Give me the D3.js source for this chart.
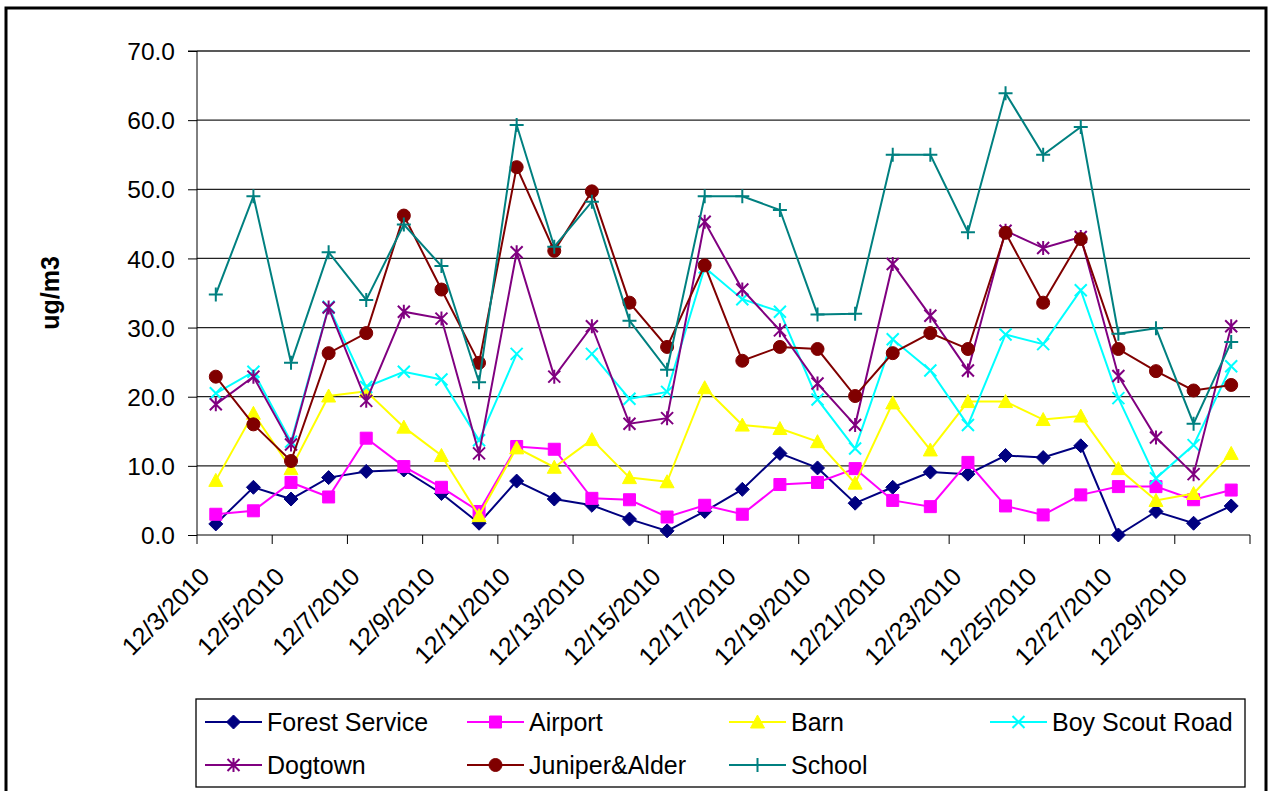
<!DOCTYPE html>
<html>
<head>
<meta charset="utf-8">
<script src="https://cdn.jsdelivr.net/npm/d3@7"></script>
<style>
  body { margin: 0; background: #fff; }
  text { font-family: "Liberation Sans", Arial, sans-serif; fill: #000; }
</style>
</head>
<body>
<svg id="chart" width="1270" height="791"></svg>
<script>
const dates = ["12/3/2010", "12/4/2010", "12/5/2010", "12/6/2010", "12/7/2010", "12/8/2010", "12/9/2010",
  "12/10/2010", "12/11/2010", "12/12/2010", "12/13/2010", "12/14/2010", "12/15/2010", "12/16/2010",
  "12/17/2010", "12/18/2010", "12/19/2010", "12/20/2010", "12/21/2010", "12/22/2010", "12/23/2010",
  "12/24/2010", "12/25/2010", "12/26/2010", "12/27/2010", "12/28/2010", "12/29/2010", "12/30/2010"];

const forestService = [1.6, 6.9, 5.2, 8.3, 9.2, 9.4, 6.0, 1.7, 7.8, 5.2, 4.3, 2.3, 0.6, 3.4,
  6.6, 11.8, 9.7, 4.6, 6.9, 9.1, 8.8, 11.5, 11.2, 12.9, 0.0, 3.4, 1.7, 4.2];
const airport = [3.0, 3.5, 7.6, 5.5, 14.0, 9.9, 6.9, 3.4, 12.8, 12.4, 5.3, 5.1, 2.6, 4.3,
  3.0, 7.3, 7.6, 9.6, 5.0, 4.1, 10.5, 4.2, 2.9, 5.8, 7.0, 7.0, 5.1, 6.5];
const barn = [7.9, 17.6, 9.6, 20.1, 20.8, 15.6, 11.5, 2.8, 12.6, 9.8, 13.8, 8.3, 7.7, 21.3,
  15.9, 15.4, 13.5, 7.5, 19.1, 12.3, 19.3, 19.3, 16.7, 17.2, 9.6, 5.0, 6.0, 11.8];
const boyScoutRoad = [20.5, 23.6, 13.5, 33.0, 21.4, 23.6, 22.5, 13.7, 26.2, null, 26.2, 19.7, 20.7, 38.7,
  34.1, 32.3, 19.6, 12.5, 28.3, 23.8, 15.9, 29.0, 27.6, 35.4, 19.8, 8.2, 13.0, 24.4];
const dogtown = [18.9, 22.9, 13.1, 32.9, 19.4, 32.3, 31.3, 11.8, 40.9, 22.9, 30.2, 16.1, 16.9, 45.3,
  35.5, 29.6, 21.9, 15.9, 39.2, 31.7, 23.8, 44.0, 41.5, 43.1, 23.0, 14.1, 8.8, 30.2];
const juniperAlder = [22.9, 16.0, 10.7, 26.3, 29.2, 46.2, 35.5, 24.9, 53.2, 41.1, 49.7, 33.6, 27.2, 39.0,
  25.2, 27.2, 26.9, 20.1, 26.3, 29.2, 26.9, 43.7, 33.6, 42.8, 26.9, 23.7, 20.9, 21.7];
const school = [34.8, 49.0, 24.9, 40.9, 34.0, 44.9, 38.9, 22.1, 59.3, 41.7, 48.2, 31.0, 23.9, 49.0,
  49.0, 47.0, 31.9, 32.0, 55.0, 55.0, 43.8, 63.9, 55.0, 59.0, 29.1, 29.9, 16.1, 27.9];

const seriesNames = ["Forest Service", "Airport", "Barn", "Boy Scout Road", "Dogtown", "Juniper&Alder", "School"];
const seriesValues = [forestService, airport, barn, boyScoutRoad, dogtown, juniperAlder, school];
const seriesColors = ["#000080", "#FF00FF", "#FFFF00", "#00FFFF", "#800080", "#800000", "#008080"];
const seriesMarkers = ["diamond", "square", "triangle", "times", "asterisk", "circle", "plus"];
const yTicks = [0, 10, 20, 30, 40, 50, 60, 70];
const yTitle = "ug/m3";

const svg = d3.select("#chart");
const plot = { left: 197, right: 1250, top: 51, bottom: 535 };

const x = d3.scaleBand().domain(dates).range([plot.left, plot.right]);
const y = d3.scaleLinear().domain([0, 70]).range([plot.bottom, plot.top]);

// outer frame
svg.append("rect")
  .attr("x", 6).attr("y", 8).attr("width", 1260).attr("height", 800)
  .attr("fill", "none").attr("stroke", "#000").attr("stroke-width", 3);

// gridlines
svg.append("g")
  .selectAll("line")
  .data(yTicks.filter(d => d > 0))
  .join("line")
  .attr("x1", plot.left).attr("x2", plot.right)
  .attr("y1", d => y(d)).attr("y2", d => y(d))
  .attr("stroke", "#222").attr("stroke-width", 1.3);

// y axis
const yAxis = svg.append("g")
  .attr("transform", `translate(${plot.left},0)`)
  .call(d3.axisLeft(y).tickValues(yTicks).tickFormat(d3.format(".1f")).tickSize(9).tickPadding(13));
yAxis.select(".domain").attr("stroke", "#000").attr("d", `M-9,${plot.top}H0V${plot.bottom}`);
yAxis.selectAll(".tick line").attr("stroke", "#000");
yAxis.selectAll(".tick text").style("font-size", "24.5px").attr("dy", "0.35em");

// x axis
const xAxisG = svg.append("g");
xAxisG.append("line")
  .attr("x1", plot.left).attr("x2", plot.right)
  .attr("y1", plot.bottom).attr("y2", plot.bottom)
  .attr("stroke", "#000");
const tickIdx = d3.range(0, dates.length + 1, 2);
xAxisG.selectAll(".xtick")
  .data(tickIdx)
  .join("line")
  .attr("class", "xtick")
  .attr("x1", i => plot.left + i * x.bandwidth())
  .attr("x2", i => plot.left + i * x.bandwidth())
  .attr("y1", plot.bottom).attr("y2", plot.bottom + 9)
  .attr("stroke", "#000");
xAxisG.selectAll(".xlabel")
  .data(dates.filter((d, i) => i % 2 === 0))
  .join("text")
  .attr("class", "xlabel")
  .attr("text-anchor", "end")
  .attr("dy", "0.35em")
  .attr("transform", d => `translate(${x(d) + x.bandwidth() / 2 - 11},572) rotate(-45)`)
  .style("font-size", "25px")
  .text(d => d);

// y title
svg.append("text")
  .attr("transform", `translate(50,${(plot.top + plot.bottom) / 2}) rotate(-90)`)
  .attr("text-anchor", "middle")
  .attr("dy", "0.35em")
  .style("font-size", "25px")
  .style("font-weight", "bold")
  .text(yTitle);

function markerPath(type) {
  const p = d3.path();
  switch (type) {
    case "diamond":
      p.moveTo(0, -7); p.lineTo(7, 0); p.lineTo(0, 7); p.lineTo(-7, 0); p.closePath(); break;
    case "square":
      p.rect(-6, -6, 12, 12); break;
    case "triangle":
      p.moveTo(0, -7); p.lineTo(7, 6); p.lineTo(-7, 6); p.closePath(); break;
    case "circle":
      p.arc(0, 0, 6.5, 0, 2 * Math.PI); break;
    case "times":
      p.moveTo(-6, -6); p.lineTo(6, 6); p.moveTo(6, -6); p.lineTo(-6, 6); break;
    case "asterisk":
      p.moveTo(-6, -6); p.lineTo(6, 6); p.moveTo(6, -6); p.lineTo(-6, 6);
      p.moveTo(0, -7); p.lineTo(0, 7); break;
    case "plus":
      p.moveTo(-7, 0); p.lineTo(7, 0); p.moveTo(0, -7); p.lineTo(0, 7); break;
  }
  return p.toString();
}
const filled = { diamond: true, square: true, triangle: true, circle: true };

function drawMarker(sel, type, color) {
  sel.attr("d", markerPath(type))
    .attr("fill", filled[type] ? color : "none")
    .attr("stroke", color)
    .attr("stroke-width", filled[type] ? 1 : 2);
}

const line = d3.line()
  .defined(d => d.v != null)
  .x(d => x(d.date) + x.bandwidth() / 2)
  .y(d => y(d.v));

seriesNames.forEach((name, s) => {
  const pts = dates.map((date, i) => ({ date, v: seriesValues[s][i] }));
  const g = svg.append("g");
  g.append("path")
    .attr("d", line(pts))
    .attr("fill", "none")
    .attr("stroke", seriesColors[s])
    .attr("stroke-width", 2);
  g.selectAll("path.mk")
    .data(pts.filter(d => d.v != null))
    .join("path")
    .attr("class", "mk")
    .attr("transform", d => `translate(${x(d.date) + x.bandwidth() / 2},${y(d.v)})`)
    .call(drawMarker, seriesMarkers[s], seriesColors[s]);
});

// legend
const legend = svg.append("g");
legend.append("rect")
  .attr("x", 196).attr("y", 699).attr("width", 1049).attr("height", 88)
  .attr("fill", "#fff").attr("stroke", "#000").attr("stroke-width", 1.3);
const colX = [205, 467, 729, 990];
const rowY = [722, 765];
seriesNames.forEach((name, s) => {
  const lx = colX[s % 4], ly = rowY[Math.floor(s / 4)];
  const item = legend.append("g").attr("transform", `translate(${lx},${ly})`);
  item.append("line")
    .attr("x1", 0).attr("x2", 57).attr("y1", 0).attr("y2", 0)
    .attr("stroke", seriesColors[s]).attr("stroke-width", 2);
  item.append("path")
    .attr("transform", "translate(28.5,0)")
    .call(drawMarker, seriesMarkers[s], seriesColors[s]);
  item.append("text")
    .attr("x", 62).attr("dy", "0.35em")
    .style("font-size", "25px")
    .text(name);
});
</script>
</body>
</html>
